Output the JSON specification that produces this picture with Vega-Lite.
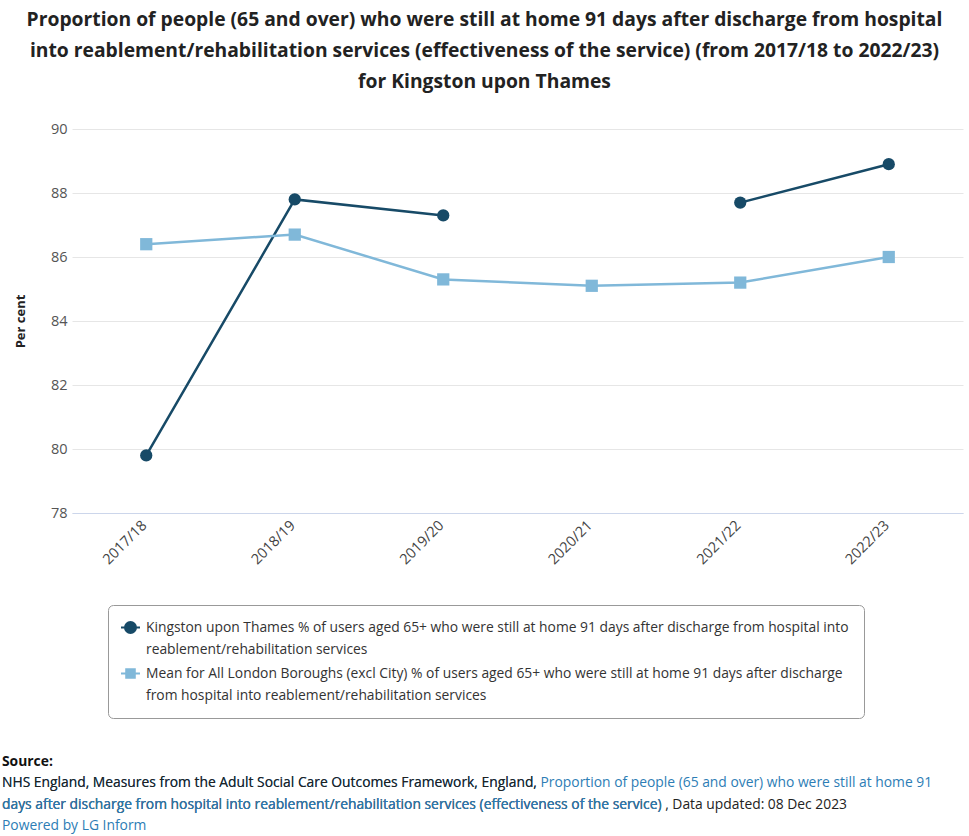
{
  "$schema": "https://vega.github.io/schema/vega-lite/v6.json",
  "background": "white",
  "padding": {"left": 2, "top": 10, "right": 6, "bottom": 0},
  "bounds": "flush",
  "spacing": 238,
  "config": {"font": "Open Sans", "view": {"stroke": null}},
  "title": {
    "text": [
      "Proportion of people (65 and over) who were still at home 91 days after discharge from hospital",
      "into reablement/rehabilitation services (effectiveness of the service) (from 2017/18 to 2022/23)",
      "for Kingston upon Thames"
    ],
    "anchor": "middle",
    "frame": "group",
    "dx": -33,
    "font": "Open Sans",
    "fontSize": 19.3,
    "fontWeight": "bold",
    "color": "#222222",
    "lineHeight": 31,
    "offset": 29
  },
  "resolve": {
    "scale": {"color": "independent", "x": "independent", "y": "independent"},
    "legend": {"color": "independent"}
  },
  "vconcat": [
    {
      "width": 891,
      "height": 384,
      "data": {
        "values": [
          {"year": "2017/18", "series": "Kingston upon Thames % of users aged 65+ who were still at home 91 days after discharge from hospital into reablement/rehabilitation services", "value": 79.8},
          {"year": "2018/19", "series": "Kingston upon Thames % of users aged 65+ who were still at home 91 days after discharge from hospital into reablement/rehabilitation services", "value": 87.8},
          {"year": "2019/20", "series": "Kingston upon Thames % of users aged 65+ who were still at home 91 days after discharge from hospital into reablement/rehabilitation services", "value": 87.3},
          {"year": "2020/21", "series": "Kingston upon Thames % of users aged 65+ who were still at home 91 days after discharge from hospital into reablement/rehabilitation services", "value": null},
          {"year": "2021/22", "series": "Kingston upon Thames % of users aged 65+ who were still at home 91 days after discharge from hospital into reablement/rehabilitation services", "value": 87.7},
          {"year": "2022/23", "series": "Kingston upon Thames % of users aged 65+ who were still at home 91 days after discharge from hospital into reablement/rehabilitation services", "value": 88.9},
          {"year": "2017/18", "series": "Mean for All London Boroughs (excl City) % of users aged 65+ who were still at home 91 days after discharge from hospital into reablement/rehabilitation services", "value": 86.4},
          {"year": "2018/19", "series": "Mean for All London Boroughs (excl City) % of users aged 65+ who were still at home 91 days after discharge from hospital into reablement/rehabilitation services", "value": 86.7},
          {"year": "2019/20", "series": "Mean for All London Boroughs (excl City) % of users aged 65+ who were still at home 91 days after discharge from hospital into reablement/rehabilitation services", "value": 85.3},
          {"year": "2020/21", "series": "Mean for All London Boroughs (excl City) % of users aged 65+ who were still at home 91 days after discharge from hospital into reablement/rehabilitation services", "value": 85.1},
          {"year": "2021/22", "series": "Mean for All London Boroughs (excl City) % of users aged 65+ who were still at home 91 days after discharge from hospital into reablement/rehabilitation services", "value": 85.2},
          {"year": "2022/23", "series": "Mean for All London Boroughs (excl City) % of users aged 65+ who were still at home 91 days after discharge from hospital into reablement/rehabilitation services", "value": 86.0}
        ]
      },
      "encoding": {
        "x": {
          "field": "year",
          "type": "ordinal",
          "scale": {"type": "point", "padding": 0.5},
          "axis": {
            "title": null,
            "labelAngle": -45,
            "labelAlign": "right",
            "labelBaseline": "middle",
            "labelFontSize": 14.5,
            "labelColor": "#444444",
            "labelPadding": 10,
            "labelOffset": -2,
            "ticks": false,
            "grid": false,
            "domainColor": "#ccd6eb",
            "domainWidth": 1
          }
        },
        "y": {
          "field": "value",
          "type": "quantitative",
          "scale": {"domain": [78, 90], "zero": false, "nice": false},
          "axis": {
            "values": [78, 80, 82, 84, 86, 88, 90],
            "title": "Per cent",
            "titleFontSize": 13,
            "titleFontWeight": "bold",
            "titleColor": "#222222",
            "titlePadding": 23,
            "labelFontSize": 14.5,
            "labelColor": "#555555",
            "labelPadding": 5,
            "domain": false,
            "ticks": false,
            "gridColor": "#e6e6e6"
          }
        },
        "color": {
          "field": "series",
          "type": "nominal",
          "scale": {
            "domain": [
              "Kingston upon Thames % of users aged 65+ who were still at home 91 days after discharge from hospital into reablement/rehabilitation services",
              "Mean for All London Boroughs (excl City) % of users aged 65+ who were still at home 91 days after discharge from hospital into reablement/rehabilitation services"
            ],
            "range": ["#174a67", "#80b8d9"]
          },
          "legend": {
            "orient": "none",
            "legendX": 36,
            "legendY": 476,
            "direction": "vertical",
            "title": null,
            "labelExpr": "split(replace(datum.label, /^(.{1,107}) /, '$1|'), '|')",
            "labelFont": "Open Sans",
            "labelFontSize": 13.85,
            "labelColor": "#333333",
            "labelLimit": 2000,
            "labelOffset": 8,
            "symbolSize": 150,
            "rowPadding": 8,
            "padding": 15,
            "strokeColor": "#999999",
            "fillColor": "white",
            "cornerRadius": 5,
            "encode": {
              "symbols": {
                "update": {
                  "shape": {"signal": "test(/^Kingston/, datum.value) ? 'M-1.55,0L1.55,0M-0.9,0A0.9,0.9,0,1,1,0.9,0A0.9,0.9,0,1,1,-0.9,0Z' : 'M-1.55,0L1.55,0M-0.7,-0.7L0.7,-0.7L0.7,0.7L-0.7,0.7Z'"},
                  "stroke": {"signal": "test(/^Kingston/, datum.value) ? '#174a67' : '#80b8d9'"},
                  "strokeWidth": {"value": 2}
                }
              },
              "labels": {"update": {"lineHeight": {"value": 22}}}
            }
          }
        }
      },
      "layer": [
        {"mark": {"type": "line", "strokeWidth": 2.5, "invalid": "break-paths-show-domains"}},
        {
          "mark": {"type": "point", "filled": true, "opacity": 1, "size": 150, "invalid": "break-paths-show-domains"},
          "encoding": {
            "shape": {
              "field": "series",
              "type": "nominal",
              "scale": {
                "domain": [
                  "Kingston upon Thames % of users aged 65+ who were still at home 91 days after discharge from hospital into reablement/rehabilitation services",
                  "Mean for All London Boroughs (excl City) % of users aged 65+ who were still at home 91 days after discharge from hospital into reablement/rehabilitation services"
                ],
                "range": ["circle", "square"]
              }
            }
          }
        }
      ]
    },
    {
      "width": 891,
      "height": 86,
      "data": {
        "values": [
          {"line": 1, "kind": "heading", "text": "Source:"},
          {"line": 2, "kind": "link", "text": "NHS England, Measures from the Adult Social Care Outcomes Framework, England, Proportion of people (65 and over) who were still at home 91"},
          {"line": 2, "kind": "plain", "text": "NHS England, Measures from the Adult Social Care Outcomes Framework, England,"},
          {"line": 3, "kind": "plain", "text": "days after discharge from hospital into reablement/rehabilitation services (effectiveness of the service) , Data updated: 08 Dec 2023"},
          {"line": 3, "kind": "link", "text": "days after discharge from hospital into reablement/rehabilitation services (effectiveness of the service)"},
          {"line": 4, "kind": "link", "text": "Powered by LG Inform"}
        ]
      },
      "encoding": {
        "y": {"field": "line", "type": "ordinal", "axis": null},
        "x": {"datum": 0, "type": "quantitative", "scale": {"domain": [0, 1]}, "axis": null},
        "text": {"field": "text"}
      },
      "layer": [
        {
          "transform": [{"filter": "datum.kind !== 'heading'"}],
          "mark": {"type": "text", "align": "left", "baseline": "middle", "dx": -70, "fontSize": 13.85},
          "encoding": {
            "color": {
              "field": "kind",
              "type": "nominal",
              "scale": {"domain": ["plain", "link"], "range": ["#222222", "#2d7db5"]},
              "legend": null
            }
          }
        },
        {
          "transform": [{"filter": "datum.kind === 'heading'"}],
          "mark": {"type": "text", "align": "left", "baseline": "middle", "dx": -70, "fontSize": 13.85, "fontWeight": "bold", "color": "#111111"}
        }
      ]
    }
  ]
}
